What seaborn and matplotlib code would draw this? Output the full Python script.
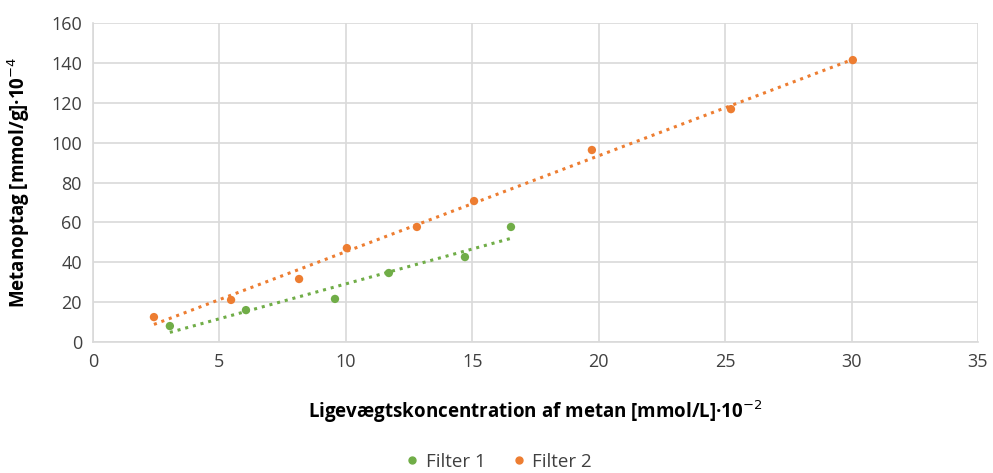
import matplotlib
matplotlib.use("Agg")
import matplotlib.pyplot as plt
import seaborn as sns
import pandas as pd
from matplotlib.lines import Line2D

# Data
filter1_x = [3.04, 6.05, 9.57, 11.70, 14.71, 16.53]
filter1_y = [8.0, 16.0, 21.6, 34.6, 42.6, 57.7]
filter2_x = [2.41, 5.46, 8.15, 10.04, 12.81, 15.07, 19.73, 25.23, 30.05]
filter2_y = [12.5, 21.1, 31.6, 47.1, 57.7, 70.7, 96.3, 116.8, 141.4]
series_names = ["Filter 1", "Filter 2"]
colors = ["#70ad47", "#ed7d31"]

df = pd.concat([
    pd.DataFrame({"x": filter1_x, "y": filter1_y, "serie": series_names[0]}),
    pd.DataFrame({"x": filter2_x, "y": filter2_y, "serie": series_names[1]}),
])

sns.set_theme(style="white")
plt.rcParams["font.family"] = ["Open Sans", "DejaVu Sans"]

fig = plt.figure(figsize=(9.93, 4.73), dpi=100)
ax = fig.add_axes([93/993, 1-342/473, (978-93)/993, (342-23)/473])

for name, col in zip(series_names, colors):
    sub = df[df["serie"] == name]
    sns.regplot(data=sub, x="x", y="y", ax=ax, ci=None, scatter=False,
                color=col, line_kws={"ls": (0, (1, 1.6)), "lw": 2.2})
sns.scatterplot(data=df, x="x", y="y", hue="serie", palette=colors, ax=ax,
                s=36, edgecolor="none", legend=False, zorder=3)

ax.set_xlim(0, 35)
ax.set_ylim(0, 160)
ax.set_xticks(range(0, 36, 5))
ax.set_yticks(range(0, 161, 20))
ax.grid(True, color="#d9d9d9", lw=1.2)
ax.set_axisbelow(True)
for s in ["top", "right"]:
    ax.spines[s].set_visible(False)
for s in ["left", "bottom"]:
    ax.spines[s].set_color("#d9d9d9")
    ax.spines[s].set_linewidth(1.2)
ax.tick_params(axis="both", length=0, labelsize=13, colors="#404040", pad=8)

ax.set_xlabel("Ligevægtskoncentration af metan [mmol/L]·10$^{-2}$",
              fontsize=13.5, fontweight="bold", color="#000000", labelpad=20)
ax.set_ylabel("Metanoptag [mmol/g]·10$^{-4}$",
              fontsize=13.5, fontweight="bold", color="#000000", labelpad=14)

handles = [Line2D([], [], marker="o", ls="", color=c, markersize=5) for c in colors]
fig.legend(handles, series_names, loc="center", bbox_to_anchor=(0.5, 1-462/473),
           ncol=2, frameon=False, fontsize=13.5, handletextpad=0.1,
           columnspacing=1.2, handlelength=1.2, labelcolor="#404040")

fig.savefig("out.png", dpi=100)
